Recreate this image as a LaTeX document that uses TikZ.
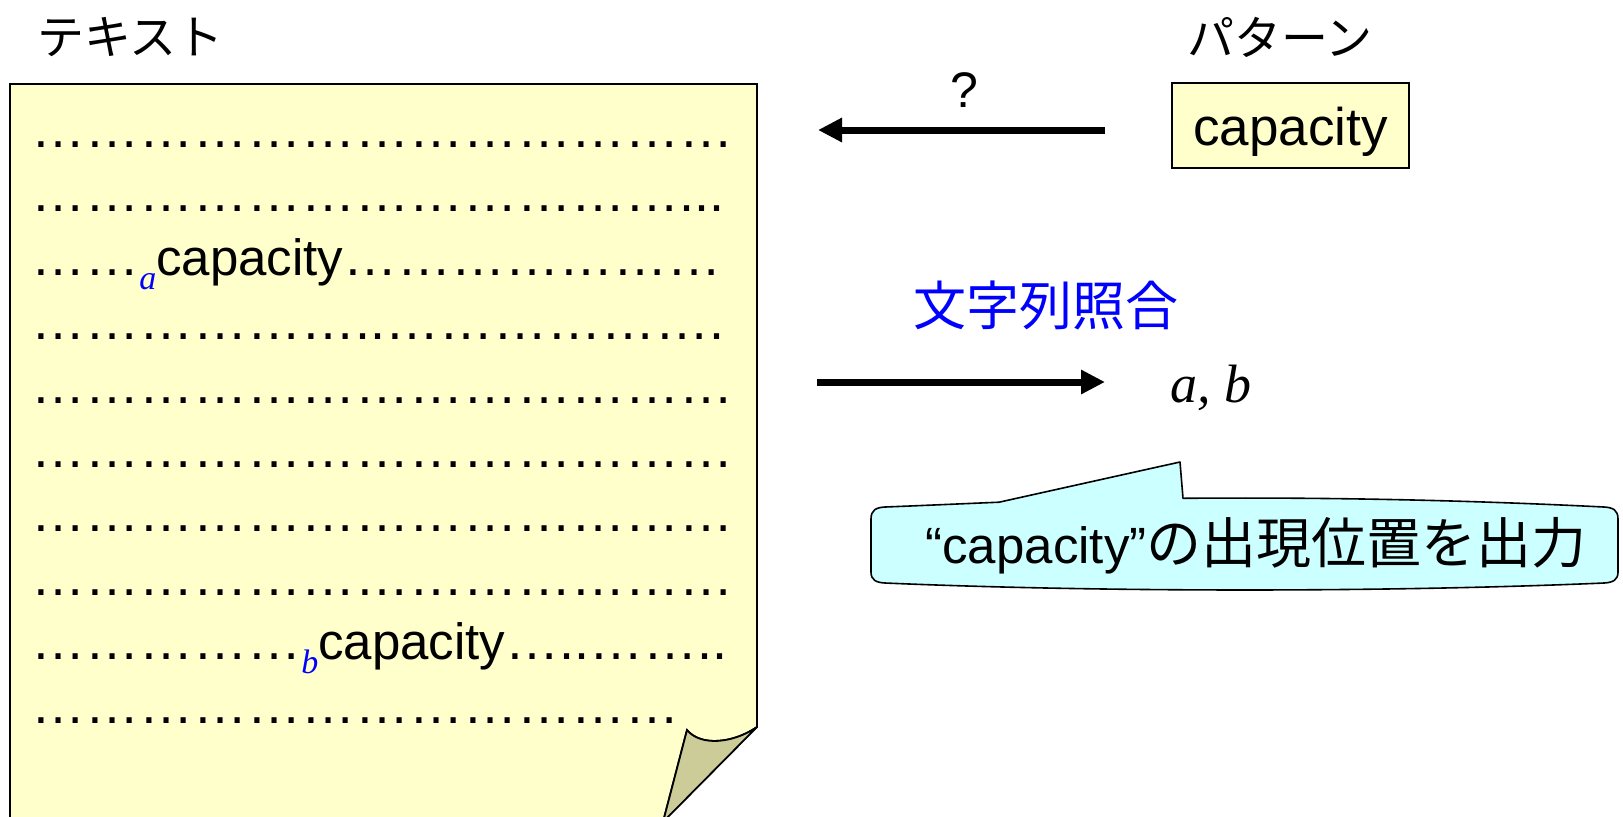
\documentclass[tikz,border=0pt]{standalone}
\usepackage{fontspec}
\setmainfont{Liberation Sans}
\newfontfamily\jpfont{Noto Sans CJK JP}
\newfontfamily\tmsfont{Liberation Serif}
\usetikzlibrary{arrows.meta}

\definecolor{pagefill}{HTML}{FFFFCC}
\definecolor{flapfill}{HTML}{CCCC99}
\definecolor{callfill}{HTML}{CCFFFF}
\definecolor{pureblue}{HTML}{0000FF}

% a run of n ellipsis characters
\newcommand\dotrun[1]{\foreach\k in {1,...,#1}{…}}
\newcommand\dotsz{\fontsize{27pt}{27pt}\selectfont}
\newcommand\capsz{\fontsize{25.5pt}{25.5pt}\selectfont}
% blue italic position label set below the baseline
\newcommand\subl[1]{\raisebox{-7pt}{\fontsize{17pt}{17pt}\selectfont\tmsfont\itshape\color{pureblue}#1}}

\begin{document}
\begin{tikzpicture}[x=0.5pt,y=-0.5pt]
\tikzset{
  row/.style={anchor=base west, inner sep=0pt, font=\dotsz},
  jptitle/.style={inner sep=0pt, font=\jpfont\fontsize{23.5pt}{23.5pt}\selectfont},
  bigarrow/.style={line width=3.5pt, -{Triangle[length=12pt,width=11.5pt]}},
  patbox/.style={draw, line width=0.8pt, fill=pagefill, inner sep=0pt,
    minimum width=118.5pt, minimum height=42.5pt,
    text height=24pt, text depth=4.5pt, font=\fontsize{26.5pt}{26.5pt}\selectfont},
}
\useasboundingbox (0,0) rectangle (1623,816);
\fill[white] (0,0) rectangle (1623,816);

% the text sheet with its curled corner
\path[draw, line width=0.9pt, fill=pagefill]
  (10,84) -- (757,84) -- (757,727)
  .. controls (732,744) and (700,746) .. (687,730)
  -- (663,822) -- (10,822) -- cycle;
\path[draw, line width=0.9pt, fill=flapfill, line join=round]
  (687,730) .. controls (700,746) and (732,744) .. (757,727)
  -- (663,822) -- cycle;

% lines of the text
\node[row] (r1)  at (31,147) {\dotrun{13}};
\node[row] (r2)  at (31,211) {\dotrun{12}...};
\node[row] (r3)  at (31,275) {\dotrun{2}\subl{a}{\capsz capacity}\dotrun{7}};
\node[row] (r4)  at (31,339) {\dotrun{6}..\dotrun{6}.};
\node[row] (r5)  at (31,403) {\dotrun{13}};
\node[row] (r6)  at (31,467) {\dotrun{13}};
\node[row] (r7)  at (31,531) {\dotrun{13}};
\node[row] (r8)  at (31,595) {\dotrun{13}};
\node[row] (r9)  at (31,659) {\dotrun{5}\subl{b}{\capsz capacity}…..……..};
\node[row] (r10) at (31,723) {\dotrun{12}};

% headings
\node[jptitle] (ttl)  at (130.5,37) {テキスト};
\node[jptitle] (ptl)  at (1280,37) {パターン};

% the pattern
\node[patbox] (pat) at (1290.5,125.5) {capacity};

% query arrow and matching arrow
\coordinate (qfrom) at (1105,130);
\coordinate (qto)   at (818,130);
\draw[bigarrow] (qfrom) -- (qto);
\node[inner sep=0pt, font=\fontsize{25pt}{25pt}\selectfont] (qm) at (964,90) {?};

\node[inner sep=0pt, text=pureblue, font=\jpfont\fontsize{26.5pt}{26.5pt}\selectfont]
  (match) at (1045.5,305) {文字列照合};
\coordinate (mfrom) at (817,382);
\coordinate (mto)   at (1105,382);
\draw[bigarrow] (mfrom) -- (mto);
\node[anchor=base west, inner sep=0pt, font=\tmsfont\itshape\fontsize{27pt}{27pt}\selectfont]
  (res) at (1170,402) {a, b};

% speech bubble
\path[draw, line width=0.8pt, fill=callfill, line join=round]
  (871,519) .. controls (871,510) and (876,507.5) .. (885,507)
  .. controls (923,505.5) and (961,503.8) .. (999,502.2)
  -- (1180,462) -- (1183,498.3)
  .. controls (1323.5,497.1) and (1463.8,500) .. (1604,507)
  .. controls (1613,507.5) and (1618,510) .. (1618,519)
  -- (1618,572)
  .. controls (1618,580) and (1613,582.5) .. (1604,583)
  .. controls (1390,592.3) and (1100,592.3) .. (885,583)
  .. controls (876,582.5) and (871,580) .. (871,572)
  -- cycle;
\node[inner sep=0pt] (msg) at (1256,546)
  {{\capsz “capacity”}{\jpfont\fontsize{27.5pt}{27.5pt}\selectfont の出現位置を出力}};
\end{tikzpicture}
\end{document}
